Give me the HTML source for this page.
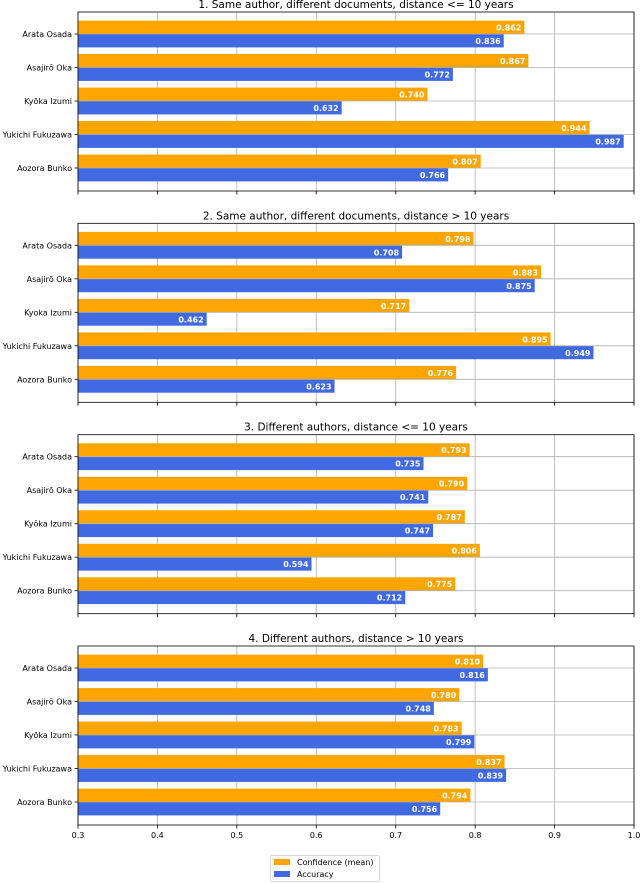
<!DOCTYPE html>
<html><head><meta charset="utf-8"><style>body{margin:0;background:#fff}svg{display:block;font-family:"DejaVu Sans","Liberation Sans",sans-serif}</style></head>
<body>
<svg id="chart" width="640" height="883" viewBox="0 0 640 883" xmlns="http://www.w3.org/2000/svg"></svg>
<script>
const titles=["1. Same author, different documents, distance <= 10 years","2. Same author, different documents, distance > 10 years","3. Different authors, distance <= 10 years","4. Different authors, distance > 10 years"];
const categories1=["Arata Osada","Asajirō Oka","Kyōka Izumi","Yukichi Fukuzawa","Aozora Bunko"];
const categories2=["Arata Osada","Asajirō Oka","Kyoka Izumi","Yukichi Fukuzawa","Aozora Bunko"];
const confidence=[[0.862,0.867,0.740,0.944,0.807],[0.798,0.883,0.717,0.895,0.776],[0.793,0.790,0.787,0.806,0.775],[0.810,0.780,0.783,0.837,0.794]];
const accuracy=[[0.836,0.772,0.632,0.987,0.766],[0.708,0.875,0.462,0.949,0.623],[0.735,0.741,0.747,0.594,0.712],[0.816,0.748,0.799,0.839,0.756]];
const xTicks=[0.3,0.4,0.5,0.6,0.7,0.8,0.9,1.0];
const svg=document.getElementById('chart');const NS='http://www.w3.org/2000/svg';
function mk(t,a,p){const e=document.createElementNS(NS,t);for(const k in a)e.setAttribute(k,a[k]);(p||svg).appendChild(e);return e;}
const L=78,R=634,xmin=0.3,xmax=1.0;
const x=v=>L+(v-xmin)/(xmax-xmin)*(R-L);
const pitch=33.5,panelH=179;
const tops=[12,223.3,434.7,646];
for(let p=0;p<4;p++){
 const g=mk('g',{});
 
 
 const top=tops[p],bot=top+panelH;
 const y=i=>top+22+i*pitch;
 const cats=p==1?categories2:categories1;
 const t=mk('text',{x:(L+R)/2,y:top-4,'text-anchor':'middle','font-size':'10.5',fill:'#000'},g);t.textContent=titles[p];
 
 
 xTicks.forEach(v=>{mk('line',{x1:x(v),x2:x(v),y1:top,y2:bot,stroke:'#b0b0b0','stroke-width':0.8},g);
  mk('line',{x1:x(v),x2:x(v),y1:bot,y2:bot+3.5,stroke:'#000','stroke-width':0.8},g);
  if(p==3){const tl=mk('text',{x:x(v),y:bot+13,'text-anchor':'middle','font-size':'8',fill:'#000'},g);tl.textContent=v.toFixed(1);
   
   }});
 cats.forEach((c,i)=>{
  const cy=y(i);
  const bc=mk('rect',{x:L,y:cy-13.4,width:x(confidence[p][i])-L,height:13.4,fill:'#FFA500'},g);
  
  
  const ba=mk('rect',{x:L,y:cy,width:x(accuracy[p][i])-L,height:13.4,fill:'#4169E1'},g);
  
  
  mk('line',{x1:L,x2:R,y1:cy,y2:cy,stroke:'#b0b0b0','stroke-width':0.8},g);
  const v1=mk('text',{x:x(confidence[p][i])-3,y:cy-3.5,'text-anchor':'end','font-size':'8','font-weight':'bold',fill:'#fff'},g);v1.textContent=confidence[p][i].toFixed(3);
  
  
  const v2=mk('text',{x:x(accuracy[p][i])-3,y:cy+10,'text-anchor':'end','font-size':'8','font-weight':'bold',fill:'#fff'},g);v2.textContent=accuracy[p][i].toFixed(3);
  
  
  mk('line',{x1:L-3.5,x2:L,y1:cy,y2:cy,stroke:'#000','stroke-width':0.8},g);
  const cl=mk('text',{x:L-6,y:cy+3,'text-anchor':'end','font-size':'8',fill:'#000'},g);cl.textContent=c;
  
  
 });
 mk('rect',{x:L,y:top,width:R-L,height:panelH,fill:'none',stroke:'#000','stroke-width':0.8},g);
}
const lg=mk('g',{});


mk('rect',{x:270.5,y:855.5,width:109,height:26,fill:'#fff',stroke:'#ccc','stroke-width':0.8,rx:2},lg);
mk('rect',{x:274,y:859,width:16,height:6,fill:'#FFA500'},lg);
mk('rect',{x:274,y:871,width:16,height:6,fill:'#4169E1'},lg);
const l1=mk('text',{x:297,y:865,'font-size':'8',fill:'#000'},lg);l1.textContent='Confidence (mean)';


const l2=mk('text',{x:297,y:877,'font-size':'8',fill:'#000'},lg);l2.textContent='Accuracy';


</script>
</body></html>
